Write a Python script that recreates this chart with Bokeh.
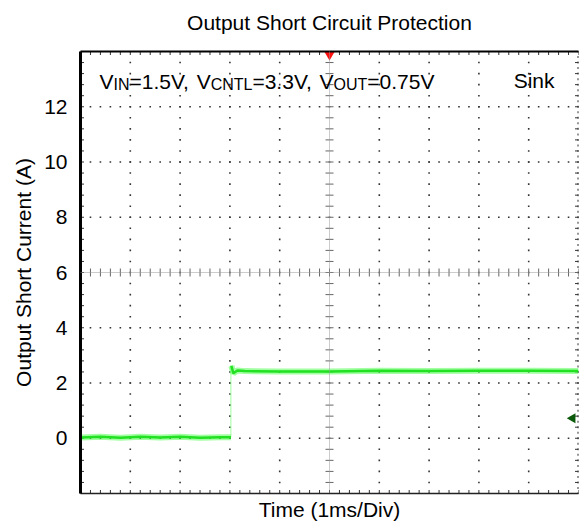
import numpy as np
from bokeh.plotting import figure
from bokeh.models import Range1d, FixedTicker, LinearAxis, Label, Span
from bokeh.embed import file_html
from bokeh.resources import INLINE

# ---- data read from the scope capture ----
title_text = "Output Short Circuit Protection"
x_label = "Time (1ms/Div)"
y_label = "Output Short Current (A)"
y_ticks = [0, 2, 4, 6, 8, 10, 12]

# trace before the short (A vs ms)
lower_t = [0.0, 0.4, 0.8, 1.2, 1.6, 2.0, 2.4, 2.8, 3.02]
lower_i = [0.03, 0.05, 0.02, 0.05, 0.03, 0.05, 0.02, 0.04, 0.04]
# fast edge at the short event
step_t = [3.02, 3.02]
step_i = [0.04, 2.65]
# trace after the short
upper_t = [3.03, 3.07, 3.15, 3.3, 4.0, 5.0, 6.0, 7.0, 8.0, 9.0, 10.0]
upper_i = [2.62, 2.35, 2.45, 2.43, 2.42, 2.42, 2.44, 2.43, 2.44, 2.44, 2.43]

trigger_time = [5.0]
channel_level = [0.72]

FONT = "Liberation Sans"
FS = 21

p = figure(width=581, height=523, x_range=Range1d(0, 10), y_range=Range1d(-2, 14),
           output_backend="svg", toolbar_location=None,
           min_border_left=80, min_border_right=3, min_border_top=51, min_border_bottom=30)
p.grid.visible = False
p.outline_line_color = None
p.background_fill_color = "white"
p.border_fill_color = "white"

xa = p.xaxis[0]
xa.ticker = FixedTicker(ticks=[])
xa.axis_label = x_label
xa.axis_label_text_font = FONT
xa.axis_label_text_font_size = f"{FS}px"
xa.axis_label_text_font_style = "normal"
xa.axis_label_text_color = "black"
xa.axis_label_standoff = 4
xa.major_label_text_font_size = "0px"
xa.major_label_standoff = 0
xa.major_tick_out = 0
xa.major_tick_in = 0
xa.minor_tick_out = 0
xa.minor_tick_in = 0
xa.axis_line_color = "#222222"
xa.axis_line_width = 1.5

ya = p.yaxis[0]
ya.ticker = FixedTicker(ticks=y_ticks)
ya.axis_label = y_label
ya.axis_label_text_font = FONT
ya.axis_label_text_font_size = f"{FS}px"
ya.axis_label_text_font_style = "normal"
ya.axis_label_text_color = "black"
ya.axis_label_standoff = 6
ya.major_label_text_font = FONT
ya.major_label_text_font_size = f"{FS}px"
ya.major_label_text_color = "black"
ya.major_label_standoff = 13
ya.major_tick_out = 0
ya.major_tick_in = 0
ya.minor_tick_out = 0
ya.minor_tick_in = 0
ya.axis_line_color = "black"
ya.axis_line_width = 3

# top border axis, carrying the chart title as its label
top = LinearAxis(ticker=FixedTicker(ticks=[]), major_label_text_font_size="0px",
                 major_tick_out=0, major_tick_in=0, minor_tick_out=0, minor_tick_in=0,
                 major_label_standoff=0, axis_line_color="black", axis_line_width=2,
                 axis_label=title_text, axis_label_text_font=FONT,
                 axis_label_text_font_size=f"{FS}px", axis_label_text_font_style="normal",
                 axis_label_text_color="black", axis_label_standoff=18)
p.add_layout(top, "above")

x0, x1 = p.x_range.start, p.x_range.end
y0, y1 = p.y_range.start, p.y_range.end

# ---- scope graticule ----
minor_x = np.round(np.arange(x0, x1 + 1e-9, 0.2), 3)
minor_y = np.round(np.arange(y0, y1 + 1e-9, 0.4), 3)
major_x = [1, 2, 3, 4, 6, 7, 8, 9]
major_y = [0, 2, 4, 8, 10, 12]

dx, dy = [], []
for gx in major_x:
    dx += [gx] * len(minor_y)
    dy += list(minor_y)
for gy in major_y:
    dx += list(minor_x)
    dy += [gy] * len(minor_x)
p.scatter(dx, dy, marker="square", size=1.6, color="#333333", line_color=None)

# center cross
p.add_layout(Span(location=5, dimension="height", line_color="#999999", line_width=1, line_dash="1 1"))
p.add_layout(Span(location=6, dimension="width", line_color="#999999", line_width=1, line_dash="1 1"))
p.scatter([5] * len(minor_y), list(minor_y), marker="dash", size=8, color="#666666", line_width=1)
p.scatter(list(minor_x), [6] * len(minor_x), marker="dash", size=8, angle=np.pi / 2,
          color="#666666", line_width=1)

# border ticks
p.scatter(list(minor_x), [y1] * len(minor_x), marker="dash", size=7, angle=np.pi / 2, color="#333333")
p.scatter(list(minor_x), [y0] * len(minor_x), marker="dash", size=7, angle=np.pi / 2, color="#333333")
p.scatter([x0] * len(minor_y), list(minor_y), marker="dash", size=7, color="#333333")
p.scatter([x1] * len(minor_y), list(minor_y), marker="dash", size=7, color="#333333")
fine_y = np.round(np.arange(y0, y1 + 1e-9, 0.2), 3)
p.scatter([x1] * len(fine_y), list(fine_y), marker="square", size=2, color="#333333", line_color=None)

# ---- trace ----
p.line(step_t, step_i, line_color="#88ff88", line_width=1, line_alpha=0.8)
for t, i in ((lower_t, lower_i), (upper_t, upper_i)):
    p.line(t, i, line_color="#55ff55", line_width=6, line_alpha=0.55)
    p.line(t, i, line_color="#22e022", line_width=2.5)

# markers
p.scatter(trigger_time, [y1 - 0.12], marker="inverted_triangle", size=10, color="#ff1010", line_color=None)
p.scatter([x1 - 0.12], channel_level, marker="triangle", angle=np.pi / 2, size=10,
          color="#0b5a0b", line_color=None)

# ---- annotation with subscripts ----
W = {"V": 667, "I": 278, "N": 722, "=": 584, "1": 556, ".": 278, "5": 556, ",": 278, " ": 278,
     "C": 722, "T": 611, "L": 556, "3": 556, "O": 778, "U": 722, "0": 556, "7": 556}


def tw(s, size):
    return sum(W[c] for c in s) * size / 1000.0


SUB = 16
pieces = [("V", False), ("IN", True), ("=1.5V, ", False), ("V", False), ("CNTL", True),
          ("=3.3V, ", False), ("V", False), ("OUT", True), ("=0.75V", False)]
xoff = 19.0
base_y = 12.9
for txt, sub in pieces:
    size = SUB if sub else FS
    p.add_layout(Label(x=x0, y=base_y, x_offset=xoff, y_offset=-3 if sub else 0, text=txt,
                       text_font=FONT, text_font_size=f"{size}px", text_baseline="alphabetic",
                       text_align="left", text_color="black"))
    xoff += tw(txt, size)

p.add_layout(Label(x=x1, y=12.95, x_offset=-24, text="Sink", text_font=FONT,
                   text_font_size=f"{FS}px", text_baseline="alphabetic", text_align="right",
                   text_color="black"))

open("out.html", "w").write(file_html(p, INLINE))
